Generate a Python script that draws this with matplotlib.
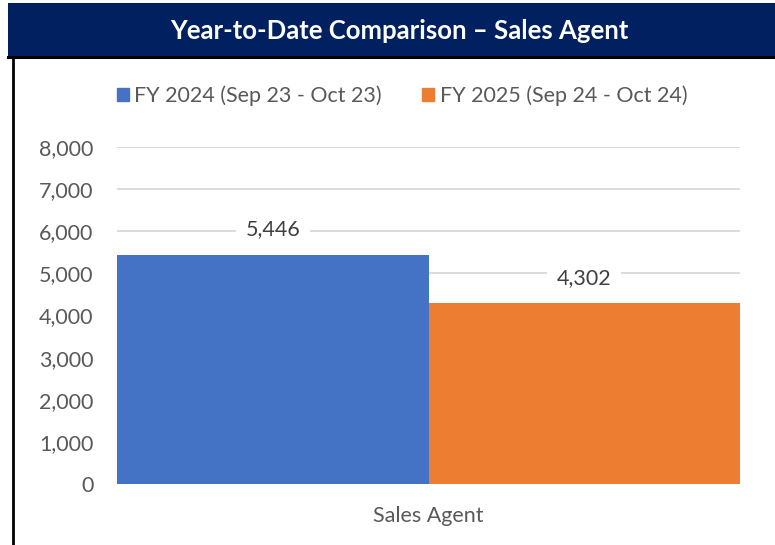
import matplotlib
matplotlib.use("Agg")
import matplotlib.pyplot as plt
from matplotlib.patches import Rectangle
from matplotlib.lines import Line2D

title = "Year-to-Date Comparison – Sales Agent"
category = "Sales Agent"
series_names = ["FY 2024 (Sep 23 - Oct 23)", "FY 2025 (Sep 24 - Oct 24)"]
values = [5446, 4302]
colors = ["#4472C4", "#ED7D31"]
yticks = [0, 1000, 2000, 3000, 4000, 5000, 6000, 7000, 8000]

plt.rcParams['font.family'] = ['Lato', 'DejaVu Sans']

W, H = 775, 545
fig = plt.figure(figsize=(W / 100, H / 100), dpi=100)
fig.patch.set_facecolor("white")

def fx(x): return x / W
def fy(y): return 1 - y / H

FS = 15.5

# banner
fig.patches.append(Rectangle((fx(8), fy(56)), fx(775) - fx(8), fy(3) - fy(56),
                             transform=fig.transFigure, facecolor="#002060", edgecolor="none"))
fig.text(fx(399), fy(31), title, color="white", fontsize=18.5, fontweight="bold",
         ha="center", va="center")
fig.lines.append(Line2D([fx(8), fx(775)], [fy(57), fy(57)], transform=fig.transFigure,
                        color="black", lw=2.2))
fig.lines.append(Line2D([fx(13), fx(13)], [fy(57), fy(545)], transform=fig.transFigure,
                        color="black", lw=2))

ax = fig.add_axes([fx(117), fy(484), fx(740) - fx(117), fy(147) - fy(484)])
ax.set_ylim(0, 8000)
ax.set_xlim(-0.5, 0.5)
x = [-0.25, 0.25]
ax.bar(x, values, width=0.5, color=colors, zorder=2)
ax.set_yticks(yticks)
ax.set_yticklabels([f"{v:,}" for v in yticks])
ax.tick_params(axis="y", length=0, pad=17, labelsize=FS, labelcolor="#595959")
ax.set_xticks([])
for s in ax.spines.values():
    s.set_visible(False)
ax.grid(axis="y", color="#d9d9d9", lw=1.3, zorder=0)
ax.set_axisbelow(True)
ax.axhline(0, color="#d9d9d9", lw=1.3, zorder=1)

for xi, v in zip(x, values):
    ax.annotate(f"{v:,}", (xi, v), xytext=(0, 18), textcoords="offset points",
                ha="center", va="center", fontsize=FS, color="#404040", zorder=3,
                bbox=dict(boxstyle="square,pad=0.45", facecolor="white", edgecolor="none"))

fig.text(fx(428), fy(516), category, ha="center", va="center", fontsize=FS, color="#595959")

# legend
handles = [Rectangle((0, 0), 1, 1, color=c) for c in colors]
fig.legend(handles, series_names, loc="center", bbox_to_anchor=(fx(402), fy(96)),
           ncol=2, frameon=False, fontsize=FS, handlelength=0.55, handleheight=0.55,
           handletextpad=0.25, columnspacing=1.9, labelcolor="#595959")

fig.savefig("out.png", dpi=100)
